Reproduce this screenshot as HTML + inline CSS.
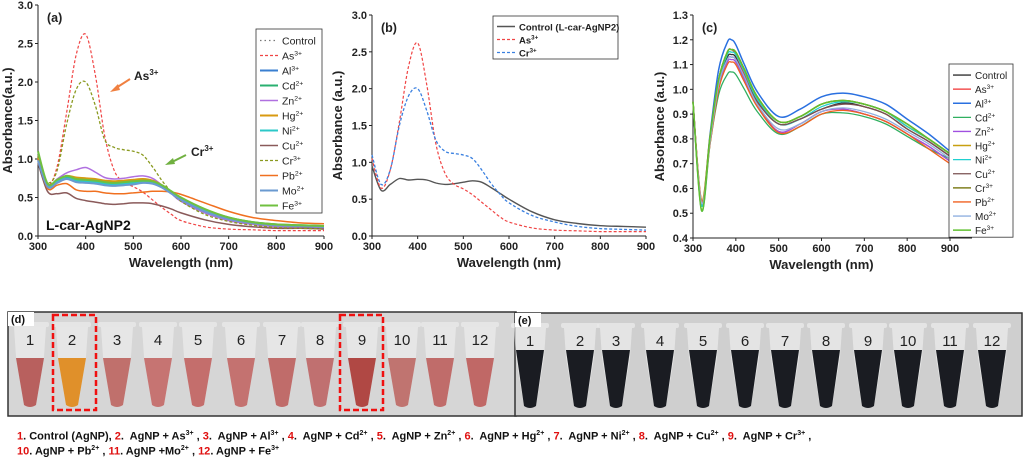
<!DOCTYPE html>
<html><head><meta charset="utf-8">
<style>
body{margin:0;background:#fff;font-family:"Liberation Sans",sans-serif;}
#wrap{position:relative;width:1024px;height:459px;overflow:hidden;}
svg text{font-family:"Liberation Sans",sans-serif;}
.cap{position:absolute;left:17px;font-size:11px;font-weight:bold;color:#111;white-space:nowrap;}
.cap .r{color:#e01010;}
.cap sup{font-size:7px;}
</style></head>
<body>
<div id="wrap">
<svg id="svg" width="1024" height="459" xmlns="http://www.w3.org/2000/svg"></svg>
<div class="cap" style="top:430px"><span class="r">1</span>. Control (AgNP), <span class="r">2</span>.&nbsp; AgNP + As<sup>3+</sup> , <span class="r">3</span>.&nbsp; AgNP + Al<sup>3+</sup> , <span class="r">4</span>.&nbsp; AgNP + Cd<sup>2+</sup> , <span class="r">5</span>.&nbsp; AgNP + Zn<sup>2+</sup> , <span class="r">6</span>.&nbsp; AgNP + Hg<sup>2+</sup> , <span class="r">7</span>.&nbsp; AgNP + Ni<sup>2+</sup> , <span class="r">8</span>.&nbsp; AgNP + Cu<sup>2+</sup> , <span class="r">9</span>.&nbsp; AgNP + Cr<sup>3+</sup> ,</div>
<div class="cap" style="top:445px"><span class="r">10</span>. AgNP + Pb<sup>2+</sup> , <span class="r">11</span>. AgNP +Mo<sup>2+</sup> , <span class="r">12</span>. AgNP + Fe<sup>3+</sup></div>
</div>
<script>
// ---- data ----
const wlA = [300,320,340,360,380,400,420,440,460,480,500,520,540,560,580,600,650,700,750,800,850,900];
const aControl = [1.0,0.66,0.72,0.76,0.73,0.72,0.71,0.70,0.69,0.70,0.71,0.72,0.70,0.64,0.55,0.46,0.32,0.22,0.17,0.14,0.13,0.12];
const aAs = [1.0,0.66,0.9,1.6,2.35,2.62,2.1,1.3,0.85,0.7,0.64,0.57,0.47,0.37,0.28,0.2,0.12,0.09,0.08,0.07,0.07,0.07];
const aAl = [1.0,0.65,0.70,0.75,0.71,0.70,0.69,0.67,0.66,0.67,0.68,0.70,0.69,0.64,0.56,0.48,0.33,0.23,0.17,0.14,0.13,0.12];
const aCd = [1.01,0.66,0.71,0.76,0.72,0.71,0.70,0.68,0.67,0.68,0.69,0.71,0.70,0.65,0.57,0.49,0.34,0.24,0.18,0.15,0.14,0.13];
const aZn = [1.0,0.66,0.74,0.82,0.86,0.89,0.83,0.76,0.74,0.75,0.77,0.78,0.75,0.66,0.55,0.45,0.30,0.20,0.15,0.12,0.11,0.10];
const aHg = [1.02,0.67,0.72,0.78,0.76,0.75,0.74,0.72,0.71,0.72,0.73,0.74,0.72,0.66,0.57,0.48,0.33,0.23,0.17,0.14,0.13,0.12];
const aNi = [1.0,0.65,0.71,0.75,0.72,0.71,0.70,0.68,0.67,0.68,0.69,0.70,0.69,0.64,0.56,0.48,0.33,0.23,0.17,0.14,0.13,0.12];
const aCu = [0.95,0.58,0.55,0.56,0.49,0.46,0.44,0.42,0.41,0.42,0.43,0.43,0.42,0.39,0.35,0.30,0.21,0.15,0.12,0.10,0.10,0.09];
const aCr = [1.05,0.70,0.85,1.45,1.9,2.0,1.7,1.25,1.15,1.12,1.10,1.05,0.90,0.72,0.57,0.45,0.28,0.19,0.14,0.11,0.10,0.09];
const aPb = [1.0,0.62,0.66,0.68,0.60,0.58,0.58,0.56,0.55,0.55,0.56,0.57,0.58,0.58,0.57,0.54,0.43,0.32,0.24,0.20,0.17,0.16];
const aMo = [0.98,0.64,0.69,0.74,0.70,0.69,0.68,0.66,0.65,0.66,0.67,0.69,0.68,0.63,0.55,0.47,0.32,0.22,0.17,0.14,0.13,0.12];
const aFe = [1.1,0.68,0.73,0.78,0.74,0.73,0.72,0.70,0.69,0.70,0.71,0.72,0.71,0.66,0.58,0.50,0.35,0.24,0.18,0.15,0.14,0.13];

const bControl = [0.95,0.62,0.70,0.78,0.76,0.77,0.76,0.72,0.70,0.71,0.73,0.75,0.73,0.66,0.58,0.50,0.33,0.22,0.17,0.14,0.13,0.12];
const bAs = [1.05,0.65,0.9,1.55,2.3,2.62,2.05,1.25,0.85,0.70,0.64,0.56,0.46,0.36,0.26,0.19,0.11,0.08,0.07,0.06,0.06,0.06];
const bCr = [1.1,0.70,0.9,1.5,1.9,2.0,1.7,1.3,1.15,1.12,1.10,1.05,0.90,0.72,0.57,0.45,0.28,0.19,0.13,0.10,0.09,0.08];

const wlC = [300,320,340,360,380,390,400,420,450,500,550,600,650,700,750,800,850,900];
const cControl = [0.95,0.54,0.80,1.03,1.13,1.14,1.13,1.06,0.95,0.86,0.88,0.92,0.945,0.93,0.90,0.84,0.79,0.73];
const cAs = [0.95,0.54,0.80,1.03,1.15,1.16,1.14,1.06,0.94,0.83,0.86,0.91,0.92,0.90,0.87,0.82,0.77,0.71];
const cAl = [0.95,0.53,0.82,1.08,1.19,1.20,1.18,1.10,0.99,0.89,0.92,0.97,0.985,0.97,0.94,0.88,0.82,0.75];
const cCd = [0.95,0.51,0.78,0.98,1.06,1.07,1.06,1.00,0.91,0.82,0.85,0.90,0.905,0.89,0.86,0.81,0.76,0.72];
const cZn = [0.95,0.54,0.79,1.01,1.11,1.12,1.11,1.04,0.93,0.83,0.86,0.91,0.92,0.90,0.87,0.82,0.77,0.71];
const cHg = [0.95,0.55,0.81,1.04,1.15,1.16,1.15,1.08,0.97,0.87,0.89,0.94,0.955,0.94,0.91,0.85,0.80,0.74];
const cNi = [0.95,0.53,0.80,1.03,1.14,1.15,1.14,1.07,0.96,0.86,0.88,0.93,0.95,0.94,0.91,0.85,0.80,0.74];
const cCu = [0.95,0.54,0.80,1.02,1.12,1.13,1.12,1.05,0.95,0.86,0.88,0.92,0.94,0.93,0.90,0.84,0.79,0.73];
const cCr = [0.95,0.54,0.81,1.04,1.15,1.16,1.15,1.08,0.97,0.87,0.89,0.94,0.955,0.94,0.91,0.86,0.80,0.74];
const cPb = [0.95,0.55,0.78,1.00,1.10,1.11,1.10,1.03,0.93,0.825,0.85,0.90,0.915,0.90,0.87,0.82,0.76,0.70];
const cMo = [0.95,0.54,0.79,1.02,1.12,1.13,1.12,1.05,0.94,0.84,0.86,0.91,0.925,0.91,0.88,0.83,0.78,0.72];
const cFe = [0.95,0.51,0.81,1.04,1.15,1.16,1.15,1.08,0.97,0.87,0.89,0.94,0.955,0.94,0.91,0.86,0.80,0.74];

const xTicks = [300,400,500,600,700,800,900];
const yTicksAB = [0.0,0.5,1.0,1.5,2.0,2.5,3.0];
const yTicksC = [0.4,0.5,0.6,0.7,0.8,0.9,1.0,1.1,1.2,1.3];

const NS = "http://www.w3.org/2000/svg";
const svg = document.getElementById('svg');
function el(tag, attrs, parent, txt){
  const e = document.createElementNS(NS, tag);
  for (const k in attrs) e.setAttribute(k, attrs[k]);
  if (txt !== undefined) e.textContent = txt;
  (parent||svg).appendChild(e);
  return e;
}
function mkScale(d0,d1,r0,r1){return v => r0 + (v-d0)/(d1-d0)*(r1-r0);}
function linePath(xs, ys, sx, sy){
  const p = xs.map((x,i)=>[sx(x), sy(ys[i])]);
  let d = 'M'+p[0][0].toFixed(1)+','+p[0][1].toFixed(1);
  for (let i=0;i<p.length-1;i++){
    const p0=p[Math.max(0,i-1)], p1=p[i], p2=p[i+1], p3=p[Math.min(p.length-1,i+2)];
    const c1x=p1[0]+(p2[0]-p0[0])/6, c1y=p1[1]+(p2[1]-p0[1])/6;
    const c2x=p2[0]-(p3[0]-p1[0])/6, c2y=p2[1]-(p3[1]-p1[1])/6;
    d+=` C${c1x.toFixed(1)},${c1y.toFixed(1)} ${c2x.toFixed(1)},${c2y.toFixed(1)} ${p2[0].toFixed(1)},${p2[1].toFixed(1)}`;
  }
  return d;
}

function drawAxes(g, cfg){
  const {sx, sy, x0, x1, y0, y1, yTicks, yFmt, xEnd} = cfg;
  const ax = el('g', {}, g);
  
  
  el('line',{x1:x0,y1:y0,x2:x0,y2:y1,stroke:'#222','stroke-width':1},ax);
  el('line',{x1:x0,y1:y0,x2:xEnd||x1,y2:y0,stroke:'#222','stroke-width':1},ax);
  xTicks.forEach(t=>{
    const x=sx(t);
    el('line',{x1:x,y1:y0,x2:x,y2:y0+3,stroke:'#222'},ax);
    const tx = el('text',{x:x,y:y0+14,'font-size':11,'font-weight':'bold','text-anchor':'middle',fill:'#222'},ax,String(t));
    
    
  });
  yTicks.forEach(t=>{
    const y=sy(t);
    el('line',{x1:x0,y1:y,x2:x0-3,y2:y,stroke:'#222'},ax);
    const tx = el('text',{x:x0-5,y:y+4,'font-size':11,'font-weight':'bold','text-anchor':'end',fill:'#222'},ax,t.toFixed(yFmt));
    
    
  });
  const xt = el('text',{x:(x0+x1)/2,y:y0+31,'font-size':13,'font-weight':'bold','text-anchor':'middle',fill:'#222'},ax,'Wavelength (nm)');
  
  
  const yc=(y0+y1)/2;
  const yt = el('text',{x:cfg.ytx,y:yc,'font-size':13,'font-weight':'bold','text-anchor':'middle',fill:'#222',transform:`rotate(-90 ${cfg.ytx} ${yc})`},ax,cfg.ytitle);
  
  
  const pl = el('text',{x:x0+9,y:y1+17,'font-size':12.5,'font-weight':'bold',fill:'#222'},ax,cfg.label);
  
  
}

function drawLegend(g, x, y, w, rowH, entries, fs){
  const lg = el('g',{},g);
  
  
  el('rect',{x:x,y:y,width:w,height:rowH*entries.length+4,fill:'#fff',stroke:'#333','stroke-width':0.8},lg);
  entries.forEach((e,i)=>{
    const yy=y+4+rowH*i+rowH/2;
    const it = el('g',{},lg);
    
    
    el('line',{x1:x+4,y1:yy,x2:x+22,y2:yy,stroke:e.c,'stroke-width':e.w||2,'stroke-dasharray':e.d||''},it);
    const t = el('text',{x:x+26,y:yy+4,'font-size':fs,fill:'#222','font-weight':e.b?'bold':'normal'},it,e.n);
    if(e.s){ el('tspan',{'font-size':fs*0.65,dy:-4},t,e.s); }
  });
}

// ---- panel a ----
(function(){
  const g = el('g',{});  
  const sx=mkScale(300,900,38,324), sy=mkScale(0,3,236,5);
  drawAxes(g,{sx,sy,x0:38,x1:324,y0:236,y1:5,yTicks:yTicksAB,yFmt:1,ytx:12,ytitle:'Absorbance(a.u.)',label:'(a)',name:'chart-a'});
  const series=[
    {n:'Control',v:aControl,c:'#777',d:'1.5,3',w:1.3},
    {n:'As',s:'3+',v:aAs,c:'#f04545',d:'3,2',w:1.2},
    {n:'Al',s:'3+',v:aAl,c:'#3a7fd0',w:2},
    {n:'Cd',s:'2+',v:aCd,c:'#2ab070',w:2},
    {n:'Zn',s:'2+',v:aZn,c:'#b070e0',w:1.5},
    {n:'Hg',s:'2+',v:aHg,c:'#d89a10',w:2},
    {n:'Ni',s:'2+',v:aNi,c:'#2cc8c8',w:2},
    {n:'Cu',s:'2+',v:aCu,c:'#8a5a5a',w:1.5},
    {n:'Cr',s:'3+',v:aCr,c:'#8a9a20',d:'3,2',w:1.3},
    {n:'Pb',s:'2+',v:aPb,c:'#f07020',w:1.5},
    {n:'Mo',s:'2+',v:aMo,c:'#6a9ad0',w:2},
    {n:'Fe',s:'3+',v:aFe,c:'#70c040',w:2}];
  series.forEach(s=>{
    const p=el('path',{d:linePath(wlA,s.v,sx,sy),fill:'none',stroke:s.c,'stroke-width':s.w,'stroke-dasharray':s.d||''},g);
    
    
  });
  drawLegend(g,256,29,66,15,series,10.5);
  const an=el('g',{},g);  
  el('line',{x1:130,y1:79,x2:116,y2:88,stroke:'#f08040','stroke-width':2},an);
  el('polygon',{points:'110,92 118,84 120,90',fill:'#f08040'},an);
  const t1=el('text',{x:134,y:80,'font-size':12,'font-weight':'bold',fill:'#222'},an,'As'); el('tspan',{'font-size':8,dy:-5},t1,'3+');
  el('line',{x1:186,y1:155,x2:172,y2:162,stroke:'#70b040','stroke-width':2},an);
  el('polygon',{points:'165,165 173,158 175,164',fill:'#70b040'},an);
  const t2=el('text',{x:191,y:156,'font-size':12,'font-weight':'bold',fill:'#222'},an,'Cr'); el('tspan',{'font-size':8,dy:-5},t2,'3+');
  const l=el('text',{x:46,y:230,'font-size':14,'font-weight':'bold',fill:'#111'},an,'L-car-AgNP2');
   
})();

// ---- panel b ----
(function(){
  const g = el('g',{});  
  const sx=mkScale(300,900,372,646), sy=mkScale(0,3,236,15);
  drawAxes(g,{sx,sy,x0:372,x1:646,y0:236,y1:15,yTicks:yTicksAB,yFmt:1,ytx:342,ytitle:'Absorbance (a.u.)',label:'(b)',name:'chart-b'});
  const series=[
    {n:'Control (L-car-AgNP2)',v:bControl,c:'#555',w:1.4,b:1},
    {n:'As',s:'3+',v:bAs,c:'#f04545',d:'3,2',w:1.2,b:1},
    {n:'Cr',s:'3+',v:bCr,c:'#3a80e0',d:'3,2',w:1.3,b:1}];
  series.forEach(s=>{
    const p=el('path',{d:linePath(wlA,s.v,sx,sy),fill:'none',stroke:s.c,'stroke-width':s.w,'stroke-dasharray':s.d||''},g);
    
    
  });
  drawLegend(g,493,16,125,13,series,9.5);
})();

// ---- panel c ----
(function(){
  const g = el('g',{});  
  const sx=mkScale(300,900,693,950), sy=mkScale(0.4,1.3,238,15);
  drawAxes(g,{sx,sy,x0:693,x1:950,y0:238,y1:15,yTicks:yTicksC,yFmt:1,ytx:664,ytitle:'Absorbance (a.u.)',label:'(c)',name:'chart-c',xEnd:972});
  const series=[
    {n:'Control',v:cControl,c:'#333',w:1.3},
    {n:'As',s:'3+',v:cAs,c:'#f03030',w:1.3},
    {n:'Al',s:'3+',v:cAl,c:'#2a70e0',w:1.5},
    {n:'Cd',s:'2+',v:cCd,c:'#30b060',w:1.3},
    {n:'Zn',s:'2+',v:cZn,c:'#a050e0',w:1.3},
    {n:'Hg',s:'2+',v:cHg,c:'#c8a010',w:1.5},
    {n:'Ni',s:'2+',v:cNi,c:'#20d0d0',w:1.3},
    {n:'Cu',s:'2+',v:cCu,c:'#7a5050',w:1.3},
    {n:'Cr',s:'3+',v:cCr,c:'#808020',w:1.5},
    {n:'Pb',s:'2+',v:cPb,c:'#f06020',w:1.3},
    {n:'Mo',s:'2+',v:cMo,c:'#90b0e0',w:1.3},
    {n:'Fe',s:'3+',v:cFe,c:'#60c030',w:1.5}];
  series.forEach(s=>{
    const p=el('path',{d:linePath(wlC,s.v,sx,sy),fill:'none',stroke:s.c,'stroke-width':s.w},g);
    
    
  });
  drawLegend(g,949,64,64,14.1,series,10);
})();

// ---- photos ----
const tubesD = [30,72,117,158,198,241,282,320,362,402,440,480];
const tubesE = [530,580,616,660,703,745,785,826,868,908,950,992];
function photo(name,x,y,w,h,bg,centers,liq,liqTop,label){
  const g=el('g',{});  
  el('rect',{x:x,y:y,width:w,height:h,fill:bg,stroke:'#333','stroke-width':1.5},g);
  centers.forEach((c,i)=>{
    const t=el('g',{},g);
    
    
    el('rect',{x:c-19,y:y+10,width:38,height:5,rx:2,fill:'#e8e8e8',opacity:0.8},t);
    el('path',{d:`M${c-16},${y+15} L${c+16},${y+15} L${c+14},${y+45} L${c+6},${y+93} Q${c},${y+97} ${c-6},${y+93} L${c-14},${y+45} Z`,fill:'#ececec',opacity:0.7},t);
    el('path',{d:`M${c-14},${liqTop} L${c+14},${liqTop} L${c+6},${y+93} Q${c},${y+97} ${c-6},${y+93} Z`,fill:liq[i]},t);
    el('text',{x:c,y:y+33,'font-size':15,'text-anchor':'middle',fill:'#222'},t,String(i+1));
  });
  el('rect',{x:x,y:y,width:26,height:14,fill:'#fff'},g);
  el('text',{x:x+3,y:y+11,'font-size':11,'font-weight':'bold',fill:'#111'},g,label);
  return g;
}
const pink=['#b8605e','#e0902a','#c0706c','#c67472','#c46e6c','#c47270','#c06c6a','#c07070','#b04844','#c07470','#c06c6a','#c06866'];
photo('photo-d',8,312,508,104,'#d6d6d6',tubesD,pink,358,'(d)');
const dark=Array(12).fill('#1a1c22');
photo('photo-e',515,313,507,103,'#cfcfcf',tubesE,dark,350,'(e)');
[[53,'highlight-tube-2'],[340,'highlight-tube-9']].forEach(([x,n])=>{
  const r=el('rect',{x:x,y:315,width:43,height:95,fill:'none',stroke:'#f01010','stroke-width':2.5,'stroke-dasharray':'6,3'});
  
  
});
</script>
</body></html>
